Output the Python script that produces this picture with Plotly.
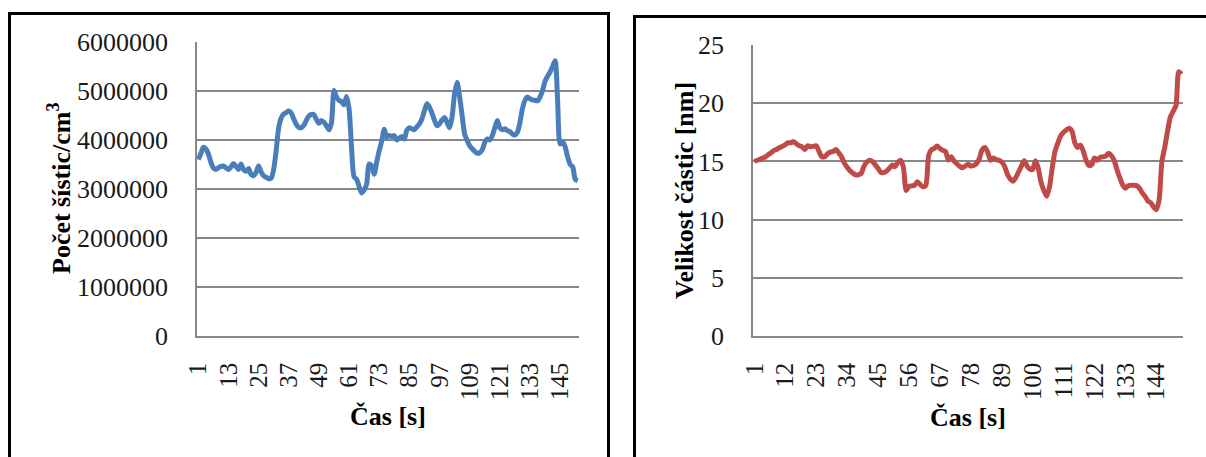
import plotly.graph_objects as go

# Počet částic (částice/cm3), jedna hodnota za sekundu, 152 s
pocet = [
    3600000, 3720000, 3850000, 3820000, 3720000, 3550000, 3430000, 3400000, 3430000, 3460000,
    3470000, 3430000, 3400000, 3450000, 3520000, 3460000, 3400000, 3510000, 3400000, 3360000,
    3420000, 3300000, 3270000, 3340000, 3470000, 3350000, 3270000, 3240000, 3210000, 3220000,
    3400000, 3780000, 4250000, 4450000, 4530000, 4560000, 4590000, 4550000, 4430000, 4320000,
    4260000, 4250000, 4300000, 4400000, 4490000, 4520000, 4520000, 4420000, 4340000, 4400000,
    4360000, 4290000, 4210000, 4350000, 5010000, 4880000, 4810000, 4780000, 4720000, 4890000,
    4640000, 3850000, 3250000, 3200000, 3050000, 2920000, 2980000, 3100000, 3510000, 3470000,
    3300000, 3550000, 3780000, 3980000, 4220000, 4060000, 4090000, 4070000, 4090000, 4000000,
    4040000, 4070000, 4020000, 4200000, 4250000, 4230000, 4210000, 4270000, 4330000, 4430000,
    4600000, 4740000, 4670000, 4550000, 4400000, 4290000, 4330000, 4410000, 4460000, 4360000,
    4250000, 4470000, 4950000, 5180000, 4880000, 4500000, 4120000, 3990000, 3880000, 3820000,
    3770000, 3730000, 3740000, 3800000, 3950000, 4020000, 4000000, 4090000, 4250000, 4400000,
    4250000, 4210000, 4230000, 4190000, 4170000, 4120000, 4100000, 4160000, 4360000, 4640000,
    4810000, 4880000, 4840000, 4820000, 4810000, 4800000, 4880000, 5010000, 5200000, 5300000,
    5390000, 5500000, 5620000, 4800000, 3920000, 3960000, 3860000, 3650000, 3500000, 3450000,
    3200000, 3170000,
]

# Velikost částic (nm), 153 s
velikost = [
    15.0, 15.1, 15.17, 15.3, 15.4, 15.6, 15.75, 15.95, 16.05, 16.2,
    16.3, 16.45, 16.6, 16.6, 16.7, 16.5, 16.35, 16.25, 16.03, 16.35,
    16.25, 16.3, 16.35, 15.85, 15.4, 15.4, 15.65, 15.8, 15.85, 16.03,
    15.75, 15.4, 14.85, 14.5, 14.2, 14.0, 13.85, 13.85, 13.97, 14.6,
    14.95, 15.1, 15.0, 14.7, 14.4, 14.05, 14.05, 14.15, 14.4, 14.68,
    14.55, 14.9, 15.1, 14.5, 12.5, 12.85, 12.9, 12.95, 13.25, 13.0,
    12.82, 12.95, 15.5, 16.0, 16.12, 16.32, 16.1, 15.95, 15.85, 15.11,
    15.4, 15.05, 14.8, 14.6, 14.45, 14.6, 14.75, 14.6, 14.65, 14.8,
    15.2, 16.0, 16.2, 15.8, 15.1, 15.3, 15.15, 15.1, 14.95, 14.6,
    13.9, 13.5, 13.3, 13.6, 14.1, 14.6, 15.05, 14.6, 14.35, 14.3,
    15.05, 14.4, 13.2, 12.5, 12.0, 12.8, 14.5, 15.9, 16.6, 17.2,
    17.5, 17.7, 17.85, 17.6, 16.6, 16.2, 16.4, 15.9, 15.1, 14.65,
    14.7, 15.3, 15.1, 15.35, 15.4, 15.45, 15.69, 15.5, 15.1, 14.3,
    13.6, 13.0, 12.7, 12.9, 12.95, 12.95, 12.92, 12.7, 12.3, 12.0,
    11.6, 11.45, 11.1, 10.85, 11.7, 15.0, 16.2, 17.6, 18.8, 19.3,
    19.8, 22.7, 22.5,
]

cas_pocet = list(range(1, len(pocet) + 1))
cas_velikost = list(range(1, len(velikost) + 1))

ticks_pocet = list(range(1, len(pocet) + 1, 12))
ticks_velikost = list(range(1, len(velikost) + 1, 11))

W, H = 1206, 457
SERIF = "Liberation Serif, Times New Roman, serif"
GRID = "#888888"


def px(x):
    return x / W


def py(y):
    return 1 - y / H


fig = go.Figure()

fig.add_trace(go.Scatter(
    x=cas_pocet, y=pocet, mode="lines",
    line=dict(color="#4A7EBB", width=5, shape="spline", smoothing=0.7),
    xaxis="x", yaxis="y", showlegend=False, hoverinfo="x+y",
))
fig.add_trace(go.Scatter(
    x=cas_velikost, y=velikost, mode="lines",
    line=dict(color="#BE4B48", width=5, shape="spline", smoothing=0.7),
    xaxis="x2", yaxis="y2", showlegend=False, hoverinfo="x+y",
))

x_common = dict(
    showgrid=False, zeroline=False, showline=True, linecolor=GRID, linewidth=1.5,
    tickangle=-90, tickfont=dict(family=SERIF, size=25, color="#1a1a1a"),
    ticks="", ticklabelstandoff=15, fixedrange=True, automargin=False,
)
y_common = dict(
    showgrid=True, gridcolor=GRID, gridwidth=1.5, zeroline=False,
    showline=True, linecolor=GRID, linewidth=1.5,
    tickfont=dict(family=SERIF, size=26, color="#1a1a1a"),
    ticks="", ticklabelstandoff=22, fixedrange=True, automargin=False,
)

fig.update_layout(
    width=W, height=H,
    margin=dict(l=0, r=0, t=0, b=0, pad=0, autoexpand=False),
    paper_bgcolor="white", plot_bgcolor="white",
    xaxis=dict(domain=[px(197), px(579)], range=[0.5, len(pocet) + 0.5],
               tickmode="array", tickvals=ticks_pocet,
               ticktext=[str(t) for t in ticks_pocet], anchor="y", **x_common),
    yaxis=dict(domain=[py(336), py(42)], range=[0, 6000000], dtick=1000000,
               tickformat="d", anchor="x", **y_common),
    xaxis2=dict(domain=[px(753), px(1183)], range=[0.5, len(velikost) + 0.5],
                tickmode="array", tickvals=ticks_velikost,
                ticktext=[str(t) for t in ticks_velikost], anchor="y2", **x_common),
    yaxis2=dict(domain=[py(336), py(45)], range=[0, 25], dtick=5,
                anchor="x2", **y_common),
)

title_font = dict(family=SERIF, size=26, color="black")
ann = dict(xref="paper", yref="paper", showarrow=False, font=title_font,
           xanchor="center", yanchor="middle")
fig.add_annotation(text="<b>Počet šístic/cm<sup>3</sup></b>", textangle=-90,
                   x=px(59), y=py(188), **ann)
fig.add_annotation(text="<b>Čas [s]</b>", x=px(388), y=py(416), **ann)
fig.add_annotation(text="<b>Velikost částic [nm]</b>", textangle=-90,
                   x=px(684), y=py(191), **ann)
fig.add_annotation(text="<b>Čas [s]</b>", x=px(968), y=py(417), **ann)

# rámečky obou grafů
frame = dict(color="black", width=3)
fig.add_shape(type="path", xref="paper", yref="paper",
              path=f"M {px(9.5)} {py(480)} L {px(9.5)} {py(13.5)} L {px(608.5)} {py(13.5)} L {px(608.5)} {py(480)}",
              line=frame)
fig.add_shape(type="path", xref="paper", yref="paper",
              path=f"M {px(634.5)} {py(480)} L {px(634.5)} {py(16.5)} L {px(1230)} {py(16.5)}",
              line=frame)

fig.write_html("out.html")
